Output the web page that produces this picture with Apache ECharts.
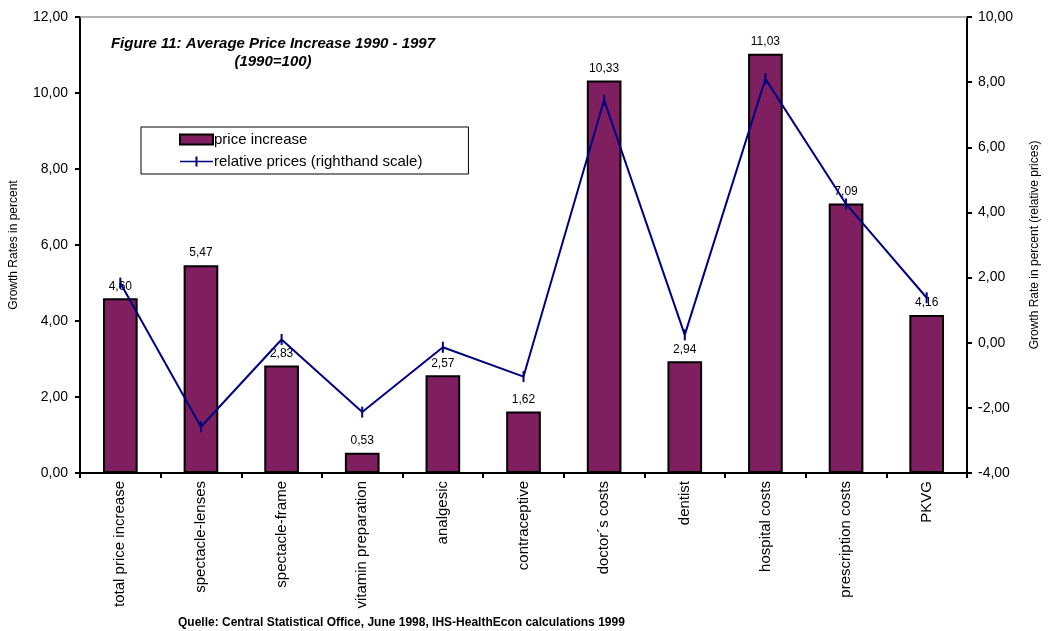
<!DOCTYPE html>
<html>
<head>
<meta charset="utf-8">
<script src="https://cdn.jsdelivr.net/npm/echarts@6/dist/echarts.min.js"></script>
<style>html,body{margin:0;padding:0;background:#fff}#c{width:1049px;height:631px}</style>
</head>
<body>
<div id="c"></div>
<script>
const categories = ['total price increase','spectacle-lenses','spectacle-frame','vitamin preparation','analgesic','contraceptive','doctor´s costs','dentist','hospital costs','prescription costs','PKVG'];
const priceIncrease = [4.60, 5.47, 2.83, 0.53, 2.57, 1.62, 10.33, 2.94, 11.03, 7.09, 4.16];
const relativePrices = [1.83, -2.58, 0.10, -2.13, -0.14, -1.04, 7.45, 0.24, 8.10, 4.26, 1.38];
const leftTicks = {min: 0, max: 12, interval: 2};
const rightTicks = {min: -4, max: 10, interval: 2};

const fmt = v => Number(v).toFixed(2).replace('.', ',');
const F = 'Arial, "Liberation Sans", sans-serif';

const chart = echarts.init(document.getElementById('c'));
chart.setOption({
  animation: false,
  backgroundColor: '#fff',
  title: {
    text: 'Figure 11: Average Price Increase 1990 - 1997\n(1990=100)',
    left: 268, top: 30, textAlign: 'center',
    textStyle: {fontFamily: F, fontSize: 15, fontWeight: 'bold', fontStyle: 'italic', color: '#000', lineHeight: 18, align: 'center'}
  },
  legend: {
    left: 141, top: 127,
    orient: 'vertical',
    padding: [5, 46, 5, 38],
    itemGap: 7,
    itemWidth: 33, itemHeight: 10,
    borderColor: '#000', borderWidth: 1,
    textStyle: {fontFamily: F, fontSize: 15, color: '#000', padding: [0, 0, 0, -4]},
    data: [
      {name: 'price increase', icon: 'rect'},
      {name: 'relative prices (righthand scale)', icon: 'path://M0,4.2 H33 V5.8 H0 Z M15.5,0 H17.5 V10 H15.5 Z'}
    ]
  },
  grid: {left: 77, right: 75, top: 17, bottom: 158},
  xAxis: [{
    type: 'category', data: categories, position: 'bottom',
    axisLine: {onZero: false, lineStyle: {color: '#000', width: 2}},
    axisTick: {show: true, length: 5, lineStyle: {color: '#000', width: 2}},
    axisLabel: {rotate: 90, interval: 0, fontFamily: F, fontSize: 15, color: '#000', margin: 8}
  }, {
    type: 'category', data: categories, position: 'top',
    axisLine: {onZero: false, lineStyle: {color: '#999', width: 1.5}},
    axisTick: {show: false}, axisLabel: {show: false}
  }],
  yAxis: [{
    type: 'value', min: leftTicks.min, max: leftTicks.max, interval: leftTicks.interval,
    name: 'Growth Rates in percent', nameLocation: 'middle', nameGap: 60, nameRotate: 90,
    nameTextStyle: {fontFamily: F, fontSize: 12, color: '#000'},
    axisLine: {show: true, onZero: false, lineStyle: {color: '#000', width: 2}},
    axisTick: {show: true, length: 5, lineStyle: {color: '#000', width: 2}},
    splitLine: {show: false},
    axisLabel: {fontFamily: F, fontSize: 14, color: '#000', margin: 12, formatter: fmt}
  }, {
    type: 'value', min: rightTicks.min, max: rightTicks.max, interval: rightTicks.interval, position: 'right',
    name: 'Growth Rate in percent (relative prices)', nameLocation: 'middle', nameGap: 62, nameRotate: 90,
    nameTextStyle: {fontFamily: F, fontSize: 12, color: '#000'},
    axisLine: {show: true, onZero: false, lineStyle: {color: '#000', width: 2}},
    axisTick: {show: true, length: 5, lineStyle: {color: '#000', width: 2}},
    splitLine: {show: false},
    axisLabel: {fontFamily: F, fontSize: 14, color: '#000', margin: 11, formatter: fmt}
  }],
  series: [{
    name: 'price increase', type: 'bar', data: priceIncrease, barWidth: '43%',
    xAxisIndex: 0, yAxisIndex: 0,
    itemStyle: {color: '#7F1F5F', borderColor: '#000', borderWidth: 2},
    label: {show: true, position: 'top', distance: 6, fontFamily: F, fontSize: 12, color: '#000', formatter: p => fmt(p.value)}
  }, {
    name: 'relative prices (righthand scale)', type: 'line', data: relativePrices,
    xAxisIndex: 0, yAxisIndex: 1, z: 5,
    symbol: 'rect', symbolSize: [2, 11],
    lineStyle: {color: '#000080', width: 2},
    itemStyle: {color: '#000080'}
  }],
  graphic: [{
    type: 'text', left: 178, top: 617,
    style: {text: 'Quelle: Central Statistical Office, June 1998, IHS-HealthEcon calculations 1999', font: 'bold 12px "Liberation Sans Narrow", "Arial Narrow", Arial, sans-serif', fill: '#000'}
  }]
});
</script>
</body>
</html>
